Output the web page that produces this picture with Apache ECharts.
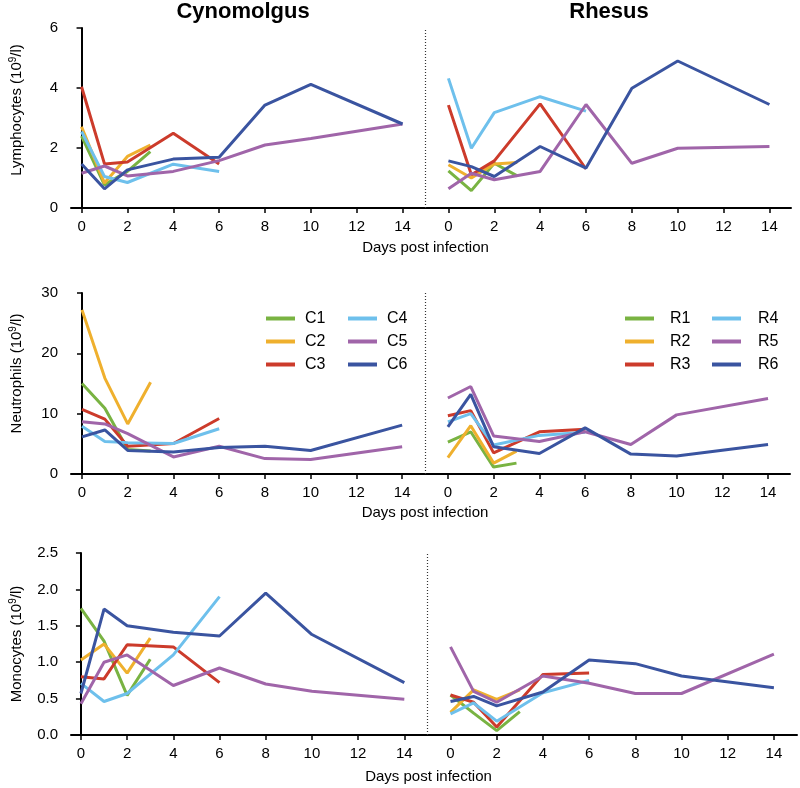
<!DOCTYPE html>
<html><head><meta charset="utf-8">
<script src="https://cdn.jsdelivr.net/npm/echarts@6/dist/echarts.min.js"></script>
<style>html,body{margin:0;padding:0;background:#fff}#c{width:800px;height:788px}</style>
</head><body><div id="c"></div>
<script>
// ---------- data ----------
const cynoNames = ['C1','C2','C3','C4','C5','C6'];
const rhesusNames = ['R1','R2','R3','R4','R5','R6'];
const daysShort = [0,1,2,3];
const daysMid = [0,1,2,4,6];
const daysLong = [0,1,2,4,6,8,10,14];
const animalDays = [daysShort, daysShort, daysMid, daysMid, daysLong, daysLong];
const dayTicks = [0,2,4,6,8,10,12,14];

// Lymphocytes (10^9/l)
const lymC1 = [2.4, 0.77, 1.22, 1.88];
const lymC2 = [2.71, 0.83, 1.72, 2.1];
const lymC3 = [4.04, 1.47, 1.53, 2.49, 1.47];
const lymC4 = [2.55, 1.05, 0.85, 1.46, 1.22];
const lymC5 = [1.16, 1.4, 1.07, 1.22, 1.58, 2.1, 2.32, 2.8];
const lymC6 = [1.47, 0.64, 1.27, 1.63, 1.69, 3.43, 4.12, 2.8];
const lymR1 = [1.24, 0.58, 1.49, 1.07];
const lymR2 = [1.44, 1.0, 1.47, 1.52];
const lymR3 = [3.43, 1.11, 1.57, 3.47, 1.3];
const lymR4 = [4.32, 1.99, 3.18, 3.71, 3.23];
const lymR5 = [0.64, 1.16, 0.94, 1.22, 3.45, 1.49, 1.99, 2.05];
const lymR6 = [1.57, 1.38, 1.05, 2.05, 1.33, 3.99, 4.9, 3.45];

// Neutrophils (10^9/l)
const neuC1 = [15.0, 10.9, 4.05, 3.8];
const neuC2 = [27.2, 15.9, 8.3, 15.2];
const neuC3 = [10.7, 9.1, 4.6, 5.05, 9.2];
const neuC4 = [7.9, 5.4, 5.2, 5.05, 7.5];
const neuC5 = [8.65, 8.3, 6.7, 2.83, 4.6, 2.55, 2.4, 4.5];
const neuC6 = [6.15, 7.3, 3.9, 3.66, 4.4, 4.6, 3.9, 8.1];
const neuR1 = [5.3, 7.0, 1.15, 1.8];
const neuR2 = [2.7, 8.0, 1.8, 3.8];
const neuR3 = [9.65, 10.5, 3.5, 7.0, 7.4];
const neuR4 = [8.65, 10.0, 4.8, 6.4, 6.9];
const neuR5 = [12.6, 14.5, 6.3, 5.4, 7.0, 4.9, 9.8, 12.5];
const neuR6 = [7.8, 13.2, 4.5, 3.4, 7.65, 3.3, 3.0, 4.9];

// Monocytes (10^9/l)
const monC1 = [1.74, 1.29, 0.545, 1.04];
const monC2 = [1.03, 1.25, 0.85, 1.33];
const monC3 = [0.8, 0.77, 1.24, 1.21, 0.72];
const monC4 = [0.71, 0.46, 0.57, 1.1, 1.9];
const monC5 = [0.43, 1.0, 1.1, 0.68, 0.92, 0.7, 0.6, 0.49];
const monC6 = [0.57, 1.73, 1.5, 1.41, 1.36, 1.95, 1.38, 0.72];
const monR1 = [0.55, 0.3, 0.06, 0.32];
const monR2 = [0.31, 0.62, 0.49, 0.62];
const monR3 = [0.55, 0.45, 0.11, 0.83, 0.85];
const monR4 = [0.29, 0.44, 0.19, 0.58, 0.75];
const monR5 = [1.21, 0.6, 0.45, 0.81, 0.71, 0.57, 0.57, 1.11];
const monR6 = [0.46, 0.53, 0.4, 0.59, 1.03, 0.98, 0.81, 0.65];

const panelTitles = ['Cynomolgus', 'Rhesus'];
const xAxisTitle = 'Days post infection';
const yAxisTitles = ['Lymphocytes', 'Neutrophils', 'Monocytes'];

// ---------- styling / layout ----------
const colors = ['#79b342', '#efb02e', '#cc3b2b', '#6ec0ec', '#a065a9', '#3a54a0'];
const FONT = '"Liberation Sans", Arial, Helvetica, sans-serif';
const rows = [
  { cyno: [lymC1,lymC2,lymC3,lymC4,lymC5,lymC6], rhe: [lymR1,lymR2,lymR3,lymR4,lymR5,lymR6],
    grid: {left: 69, top: 28, width: 722, height: 180}, xr: [-0.46, 30.94], ymax: 6, yint: 2, dec: 0, nameGap: 32, yPad: 16 },
  { cyno: [neuC1,neuC2,neuC3,neuC4,neuC5,neuC6], rhe: [neuR1,neuR2,neuR3,neuR4,neuR5,neuR6],
    grid: {left: 69, top: 293, width: 721, height: 181}, xr: [-0.48, 30.96], ymax: 30, yint: 10, dec: 0, nameGap: 31, yPad: 20 },
  { cyno: [monC1,monC2,monC3,monC4,monC5,monC6], rhe: [monR1,monR2,monR3,monR4,monR5,monR6],
    grid: {left: 68, top: 553, width: 729, height: 182}, xr: [-0.43, 31.0], ymax: 2.5, yint: 0.5, dec: 1, nameGap: 34, yPad: 0 }
];
const RHESUS_OFFSET = 16;

const grid = [], xAxis = [], yAxis = [], series = [];
rows.forEach((row, r) => {
  grid.push(row.grid);
  xAxis.push({
    gridIndex: r, type: 'value', position: 'bottom',
    min: row.xr[0], max: row.xr[1],
    axisLine: {show: true, onZero: false, lineStyle: {color: '#000', width: 2}},
    axisTick: {show: true, length: 5, lineStyle: {color: '#000', width: 1.5}, customValues: dayTicks},
    axisLabel: {fontSize: 15, color: '#000', fontFamily: FONT, margin: 11, customValues: dayTicks},
    splitLine: {show: false},
    name: xAxisTitle, nameLocation: 'middle', nameGap: row.nameGap,
    nameTextStyle: {fontSize: 15, color: '#000', fontFamily: FONT, padding: [0, 11, 0, 0]}
  });
  xAxis.push({
    gridIndex: r, type: 'value', position: 'bottom',
    min: row.xr[0] - RHESUS_OFFSET, max: row.xr[1] - RHESUS_OFFSET,
    axisLine: {show: false, onZero: false},
    axisTick: {show: true, length: 5, lineStyle: {color: '#000', width: 1.5}, customValues: dayTicks},
    axisLabel: {fontSize: 15, color: '#000', fontFamily: FONT, margin: 11, customValues: dayTicks},
    splitLine: {show: false}
  });
  yAxis.push({
    gridIndex: r, type: 'value', min: 0, max: row.ymax, interval: row.yint,
    axisLine: {show: true, lineStyle: {color: '#000', width: 2}},
    axisTick: {show: true, length: 5, lineStyle: {color: '#000', width: 1.5}},
    axisLabel: {fontSize: 15, color: '#000', fontFamily: FONT, margin: 13,
      formatter: v => v.toFixed(row.dec)},
    splitLine: {show: false},
    name: yAxisTitles[r] + ' (10{s|9}/l)', nameLocation: 'middle', nameGap: 46,
    nameTextStyle: {fontSize: 15, color: '#000', fontFamily: FONT, lineHeight: 17, padding: [0, 0, 0, row.yPad],
      rich: {s: {fontSize: 10, color: '#000', fontFamily: FONT, verticalAlign: 'top', lineHeight: 17}}}
  });
  row.cyno.forEach((vals, i) => {
    const s = {
      name: cynoNames[i], type: 'line', xAxisIndex: 2*r, yAxisIndex: r,
      data: vals.map((v, k) => [animalDays[i][k], v]),
      showSymbol: false, symbol: 'none', color: colors[i],
      lineStyle: {width: 3, color: colors[i]}, silent: true, animation: false
    };
    if (i === 0) {
      s.markLine = {silent: true, symbol: ['none','none'], label: {show: false},
        lineStyle: {type: [1, 2], color: '#333', width: 1.2}, data: [{xAxis: 15}]};
    }
    series.push(s);
  });
  row.rhe.forEach((vals, i) => {
    series.push({
      name: rhesusNames[i], type: 'line', xAxisIndex: 2*r+1, yAxisIndex: r,
      data: vals.map((v, k) => [animalDays[i][k], v]),
      showSymbol: false, symbol: 'none', color: colors[i],
      lineStyle: {width: 3, color: colors[i]}, silent: true, animation: false
    });
  });
});

function legendAt(names, left, pad) {
  return {
    data: names, left: left, top: 305, orient: 'vertical', icon: 'rect',
    itemWidth: 29, itemHeight: 4, itemGap: 6, selectedMode: false,
    textStyle: {fontSize: 16, color: '#000', fontFamily: FONT, lineHeight: 17, padding: [0, 0, 0, pad]}
  };
}

const option = {
  animation: false,
  backgroundColor: '#fff',
  grid, xAxis, yAxis, series,
  legend: [
    legendAt(cynoNames.slice(0,3), 261, 5),
    legendAt(cynoNames.slice(3), 343, 5),
    legendAt(rhesusNames.slice(0,3), 620, 11),
    legendAt(rhesusNames.slice(3), 707, 12)
  ],
  graphic: [
    {type: 'text', x: 243, y: 1, style: {text: panelTitles[0], font: 'bold 22px ' + FONT, fill: '#000', align: 'center', verticalAlign: 'top'}},
    {type: 'text', x: 609, y: 1, style: {text: panelTitles[1], font: 'bold 22px ' + FONT, fill: '#000', align: 'center', verticalAlign: 'top'}}
  ]
};
const chart = echarts.init(document.getElementById('c'), null, {renderer: 'canvas'});
chart.setOption(option);
</script></body></html>
